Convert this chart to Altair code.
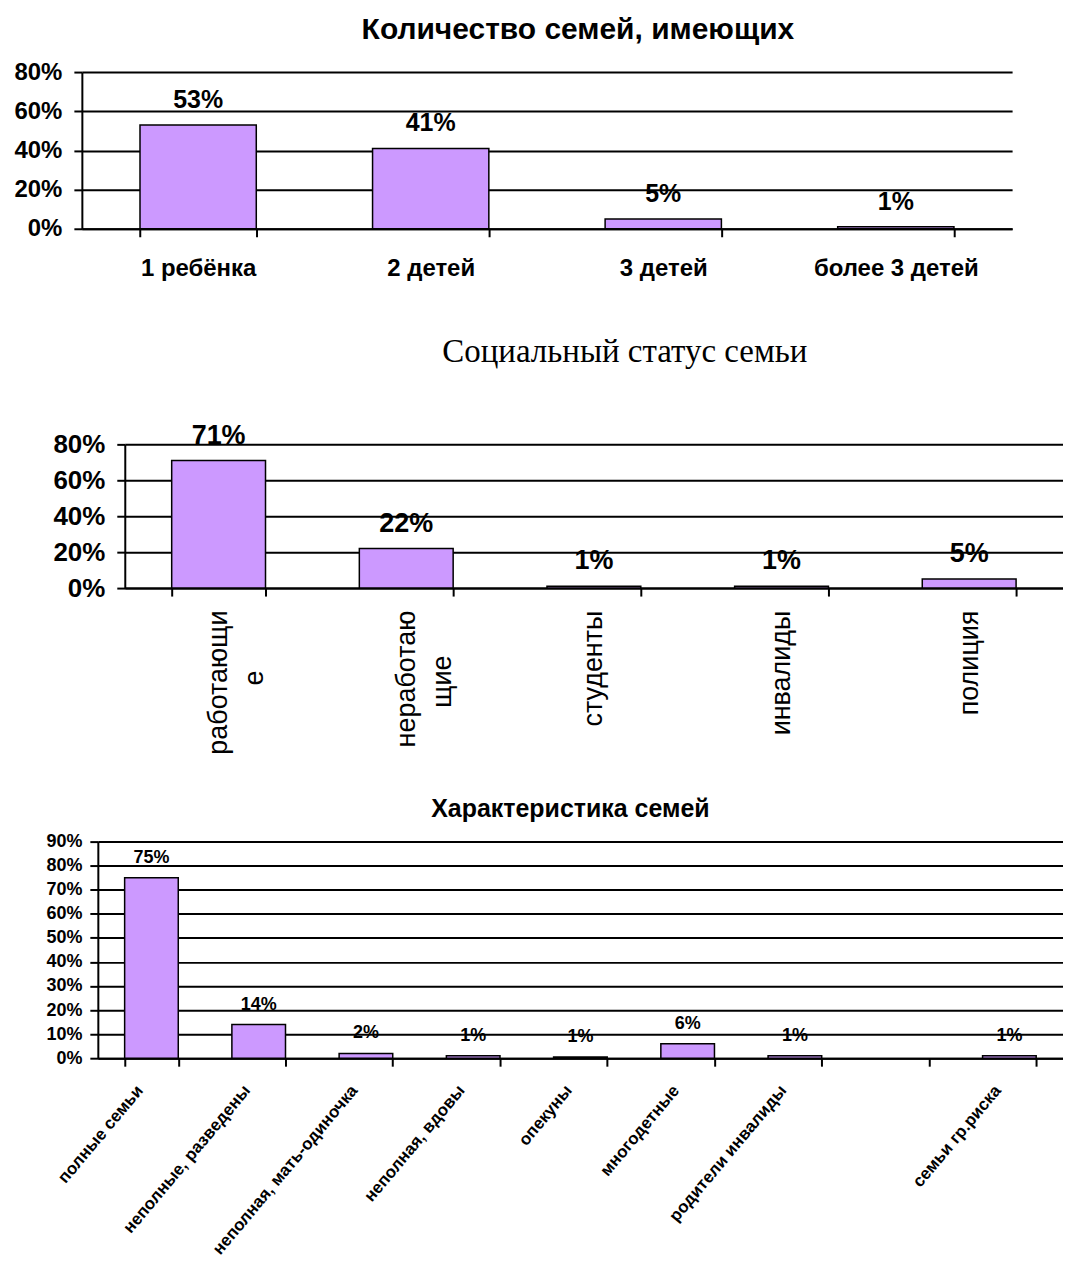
import altair as alt
import pandas as pd

SANS = "Liberation Sans"
SERIF = "Liberation Serif"
BAR = "#CC99FF"
NBSP = "\u00a0"
ZWSP = "\u200b"

# ---- data ----
cats1 = ["1 ребёнка", "2 детей", "3 детей", "более 3 детей"]
vals1 = [53, 41, 5, 1]
labs1 = ["53%", "41%", "5%", "1%"]
yticks1 = [0, 20, 40, 60, 80]

cats2 = ["работающи\nе", "неработаю\nщие", "студенты", "инвалиды", "полиция"]
vals2 = [71, 22, 1, 1, 5]
labs2 = ["71%", "22%", "1%", "1%", "5%"]
yticks2 = [0, 20, 40, 60, 80]

cats3 = ["полные семьи", "неполные, разведены", "неполная, мать-одиночка",
         "неполная, вдовы", "опекуны", "многодетные", "родители инвалиды",
         " ", "семьи гр.риска"]
vals3 = [75, 14, 2, 1, 0.5, 6, 1, None, 1]
labs3 = ["75%", "14%", "2%", "1%", "1%", "6%", "1%", "", "1%"]
yticks3 = [0, 10, 20, 30, 40, 50, 60, 70, 80, 90]

titles = ["Количество семей, имеющих", "Социальный статус семьи", "Характеристика семей"]


def yaxis(ticks, size, pad):
    return alt.Axis(
        title=None,
        values=ticks, labelExpr="datum.value + '%'",
        labelFont=SANS, labelFontWeight="bold", labelFontSize=size, labelColor="black",
        labelPadding=pad, labelFlush=False, labelOverlap=False,
        tickSize=8, tickWidth=2, tickColor="black",
        domainColor="black", domainWidth=2,
        grid=True, gridColor="black", gridWidth=2, gridOpacity=1,
    )


def panel(cats, vals, labs, width, height, ymax, ya, xa, title, tsize, tdy):
    df = pd.DataFrame({"cat": cats, "val": vals, "lab": labs})
    x = alt.X("cat:N", sort=cats,
              scale=alt.Scale(domain=cats, paddingInner=0.5, paddingOuter=0.25),
              axis=xa)
    y = alt.Y("val:Q", scale=alt.Scale(domain=[0, ymax], nice=False, zero=True), axis=ya)
    base = alt.Chart(df)
    bars = base.mark_bar(color=BAR, stroke="black", strokeWidth=1.5).encode(x=x, y=y)
    text = base.mark_text(font=SANS, fontWeight="bold", fontSize=tsize, baseline="middle",
                          dy=-tdy, color="black").encode(x=x, y=y, text="lab:N")
    return alt.layer(bars, text).properties(width=width, height=height, title=title)


def spacer(w, h=1):
    # invisible layout cell that shifts the panel beside it
    return alt.Chart(pd.DataFrame({"s": [0]})).mark_point(
        opacity=0, size=1, strokeWidth=0, filled=True
    ).encode(x=alt.value(0), y=alt.value(0)).properties(width=w, height=h)


xa1 = alt.Axis(title=None,
               labelAngle=0, labelFont=SANS, labelFontWeight="bold",
               labelFontSize=24, labelColor="black", labelPadding=20, labelOverlap=False,
               tickBand="extent", tickSize=8, tickWidth=2, tickColor="black",
               domainColor="black", domainWidth=2, grid=False)

# two-line labels: second line padded with no-break spaces so it sits mid-way
label2_expr = (
    "indexof(datum.label, '\\n') < 0 ? datum.label : "
    "[split(datum.label, '\\n')[0], "
    "pad(split(datum.label, '\\n')[1], length(split(datum.label, '\\n')[0]), '" + NBSP + "') + '"
    + ZWSP + "']"
)
xa2 = alt.Axis(title=None, labelAngle=-90, labelFont=SANS, labelFontWeight="normal",
               labelFontSize=27, labelColor="black", labelPadding=14, labelOverlap=False,
               labelExpr=label2_expr, labelLineHeight=36, labelLimit=0,
               tickBand="extent", tickSize=8, tickWidth=2, tickColor="black",
               domainColor="black", domainWidth=2, grid=False)
xa3 = alt.Axis(title=None, labelAngle=-50, labelAlign="right", labelBaseline="top",
               labelFont=SANS, labelFontWeight="bold", labelFontSize=17, labelColor="black",
               labelPadding=16, labelOffset=-18, labelOverlap=False, labelLimit=0,
               tickBand="extent", tickSize=8, tickWidth=2, tickColor="black",
               domainColor="black", domainWidth=2, grid=False)

t1 = alt.TitleParams(titles[0], font=SANS, fontSize=30, fontWeight="bold", color="black",
                     anchor="middle", frame="group", dx=31, offset=15)
t2 = alt.TitleParams(titles[1], font=SERIF, fontSize=33, fontWeight="normal", color="black",
                     anchor="middle", frame="group", dx=31, offset=53)
t3 = alt.TitleParams(titles[2], font=SANS, fontSize=25, fontWeight="bold", color="black",
                     anchor="middle", frame="group", dx=-10, offset=11)

c1 = panel(cats1, vals1, labs1, 932, 157, 80, yaxis(yticks1, 24, 12), xa1, t1, 25, 25)
c2 = panel(cats2, vals2, labs2, 940, 144, 80, yaxis(yticks2, 26, 12), xa2, t2, 27, 25)
c3 = panel(cats3, vals3, labs3, 967, 217, 90, yaxis(yticks3, 18, 8), xa3, t3, 18, 20)

row1 = alt.hconcat(spacer(4, 222), c1, spacing=0)
row2 = alt.hconcat(spacer(43), c2, spacing=0)
row3 = alt.hconcat(spacer(36), c3, spacing=0)

chart = alt.vconcat(row1, row2, row3, spacing=42).properties(
    padding={"left": 0, "top": 6, "right": 0, "bottom": 0},
    background="white",
).configure_view(stroke=None)

chart.save("out.html", embed_options={"renderer": "svg", "actions": False})
